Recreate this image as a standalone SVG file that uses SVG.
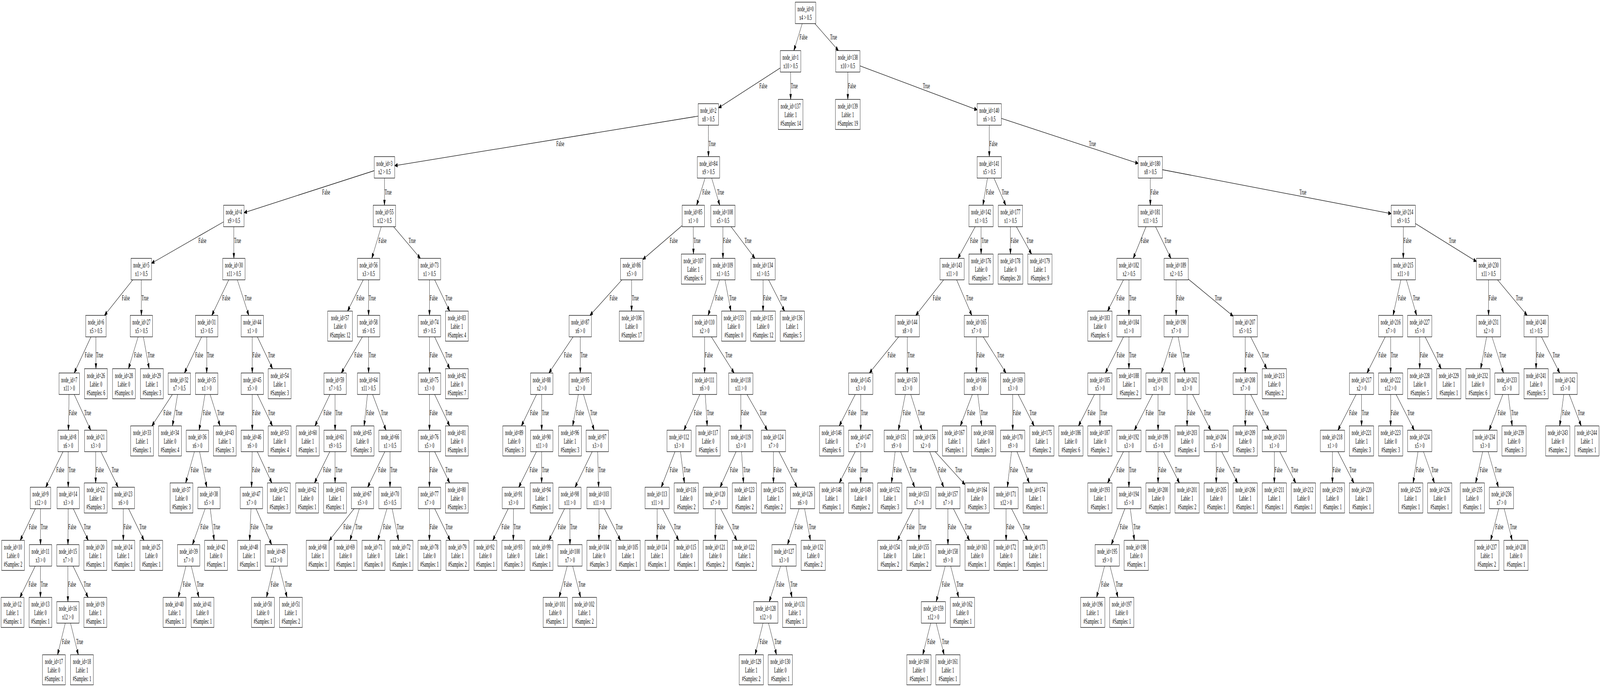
<svg xmlns="http://www.w3.org/2000/svg" width="7777" height="1759" viewBox="0 0 7777 1759" preserveAspectRatio="none" style="width:100vw;height:100vh;display:block">
<style>
text{font-family:"Liberation Serif","Times New Roman",serif;font-size:18.3px;fill:#000}
.node text{text-anchor:middle}
.node rect{fill:#fff;stroke:#000;stroke-width:1.3}
#edges path{fill:none;stroke:#000;stroke-width:1.3;marker-end:url(#ah)}
</style>
<defs>
<marker id="ah" markerUnits="userSpaceOnUse" viewBox="-14 -5 15 10" refX="0" refY="0" markerWidth="15" markerHeight="10" orient="auto" overflow="visible"><path d="M-13.1,-4.6L0,0L-13.1,4.6Z" fill="#000" stroke="#000" stroke-width="1.3"/></marker>
</defs>
<rect width="7777" height="1759" fill="#fff"/>
<g id="edges">
<path d="M3899.2,60.5L3858.8,129.5"/><text x="3886.2" y="101.4">False</text>
<path d="M3960.9,60.5L4075.3,129.5"/><text x="4034.6" y="101.4">True</text>
<path d="M3793,173.9L3492.8,276.1"/><text x="3691" y="226">False</text>
<path d="M3842.8,184.5L3843,254.5"/><text x="3844" y="226">True</text>
<path d="M4120.9,184.5L4120.9,254.5"/><text x="4122" y="226">False</text>
<path d="M4179.75,168.6L4749.75,281.4"/><text x="4485.8" y="226">True</text>
<path d="M3393.4,297.3L1918.4,424.2"/><text x="2704" y="373.6">False</text>
<path d="M3443.1,320.5L3443.6,401"/><text x="3444.4" y="373.6">True</text>
<path d="M4808.6,320.5L4808.6,401"/><text x="4809.6" y="373.6">False</text>
<path d="M4867.45,303.2L5532.45,418.3"/><text x="5292.9" y="373.6">True</text>
<path d="M1819,437L1186.4,544.55"/><text x="1566" y="497.6">False</text>
<path d="M1868.7,456L1868.7,525.5"/><text x="1869.7" y="497.6">True</text>
<path d="M3427.3,456L3386.1,525.5"/><text x="3413.7" y="497.6">False</text>
<path d="M3459.15,456L3498.45,525.5"/><text x="3485.4" y="497.6">True</text>
<path d="M4799.8,456L4777.6,525.5"/><text x="4792.9" y="497.6">False</text>
<path d="M4831.3,456L4888.7,525.5"/><text x="4869.1" y="497.6">True</text>
<path d="M5591.3,456L5591.3,525.5"/><text x="5592.3" y="497.6">False</text>
<path d="M5650.15,434.5L6762.05,547"/><text x="6316" y="497.6">True</text>
<path d="M1087,568L736.6,674"/><text x="964.5" y="622.4">False</text>
<path d="M1136.7,580.5L1136.7,661.5"/><text x="1137.7" y="622.4">True</text>
<path d="M1853.1,580.5L1807.2,661.5"/><text x="1840" y="622.4">False</text>
<path d="M1913,580.5L2043.3,661.5"/><text x="1986.2" y="622.4">True</text>
<path d="M3315.55,577.6L3124.25,664.4"/><text x="3255.3" y="622.4">False</text>
<path d="M3369.8,580.5L3370.6,650.5"/><text x="3371" y="622.4">True</text>
<path d="M3514,580.5L3514,661.5"/><text x="3515" y="622.4">False</text>
<path d="M3553.4,580.5L3669.5,661.5"/><text x="3618.7" y="622.4">True</text>
<path d="M4740.2,580.5L4656.1,661.5"/><text x="4715.4" y="622.4">False</text>
<path d="M4768.8,580.5L4768.8,650.5"/><text x="4769.8" y="622.4">True</text>
<path d="M4911.4,580.5L4911.4,650.5"/><text x="4912.4" y="622.4">False</text>
<path d="M4940.3,580.5L5014,650.5"/><text x="4988.6" y="622.4">True</text>
<path d="M5570.3,580.5L5508.3,661.5"/><text x="5545" y="622.4">False</text>
<path d="M5616.7,580.5L5691.5,661.5"/><text x="5659.1" y="622.4">True</text>
<path d="M6820.9,580.5L6820.9,661.5"/><text x="6821.9" y="622.4">False</text>
<path d="M6879.75,572.3L7176.55,669.7"/><text x="7042.5" y="622.4">True</text>
<path d="M645.35,716.5L507.85,807.5"/><text x="592.2" y="769.3">False</text>
<path d="M686.9,716.5L687.3,807.5"/><text x="688" y="769.3">True</text>
<path d="M1111.9,716.5L1029.6,807.5"/><text x="1080.5" y="769.3">False</text>
<path d="M1153.6,716.5L1209.3,807.5"/><text x="1188.8" y="769.3">True</text>
<path d="M1765.5,716.5L1689.4,796.5"/><text x="1732.5" y="769.3">False</text>
<path d="M1791.6,716.5L1791.6,807.5"/><text x="1792.6" y="769.3">True</text>
<path d="M2087.6,716.5L2087.6,807.5"/><text x="2088.6" y="769.3">False</text>
<path d="M2112.7,716.5L2185.6,796.5"/><text x="2164.5" y="769.3">True</text>
<path d="M3023,716.5L2867.5,807.5"/><text x="2962.8" y="769.3">False</text>
<path d="M3070,716.5L3070,796.5"/><text x="3071" y="769.3">True</text>
<path d="M3497.2,716.5L3441.7,807.5"/><text x="3476.3" y="769.3">False</text>
<path d="M3523.85,716.5L3552.5,796.5"/><text x="3544.8" y="769.3">True</text>
<path d="M3708.9,716.5L3708.9,796.5"/><text x="3709.9" y="769.3">False</text>
<path d="M3735.7,716.5L3813.5,796.5"/><text x="3791" y="769.3">True</text>
<path d="M4586.6,716.5L4451.2,807.5"/><text x="4534.3" y="769.3">False</text>
<path d="M4649.8,716.5L4723.7,807.5"/><text x="4696.1" y="769.3">True</text>
<path d="M5460.7,716.5L5383.5,796.5"/><text x="5427.1" y="769.3">False</text>
<path d="M5487.3,716.5L5487.3,807.5"/><text x="5488.3" y="769.3">True</text>
<path d="M5716.9,716.5L5716.9,807.5"/><text x="5717.9" y="769.3">False</text>
<path d="M5775.75,714.6L5993.85,809.4"/><text x="5905" y="769.3">True</text>
<path d="M6809.3,716.5L6771,807.5"/><text x="6795.2" y="769.3">False</text>
<path d="M6835.9,716.5L6885.7,807.5"/><text x="6867.4" y="769.3">True</text>
<path d="M7235.4,716.5L7235.4,807.5"/><text x="7236.4" y="769.3">False</text>
<path d="M7278.9,716.5L7422.8,807.5"/><text x="7368.1" y="769.3">True</text>
<path d="M442.1,862.5L360.8,955"/><text x="411.8" y="915.2">False</text>
<path d="M466.3,862.5L466.3,944"/><text x="467.3" y="915.2">True</text>
<path d="M671.45,862.5L624.5,944"/><text x="651.8" y="915.2">False</text>
<path d="M696.8,862.5L725,944"/><text x="717.1" y="915.2">True</text>
<path d="M980,862.5L896.5,955"/><text x="948.7" y="915.2">False</text>
<path d="M1004.8,862.5L1004.8,955"/><text x="1005.8" y="915.2">True</text>
<path d="M1226.2,862.5L1226.2,955"/><text x="1227.2" y="915.2">False</text>
<path d="M1251,862.5L1324.6,944"/><text x="1302.3" y="915.2">True</text>
<path d="M1761.2,862.5L1659.1,955"/><text x="1722.8" y="915.2">False</text>
<path d="M1791.6,862.5L1791.6,955"/><text x="1792.6" y="915.2">True</text>
<path d="M2087.6,862.5L2087.6,955"/><text x="2088.6" y="915.2">False</text>
<path d="M2112.4,862.5L2186,944"/><text x="2163.7" y="915.2">True</text>
<path d="M2785.5,862.5L2668,955"/><text x="2741.2" y="915.2">False</text>
<path d="M2820.5,862.5L2820.5,955"/><text x="2821.5" y="915.2">True</text>
<path d="M3424.9,862.5L3424.9,955"/><text x="3425.9" y="915.2">False</text>
<path d="M3457.75,862.5L3568.25,955"/><text x="3525.3" y="915.2">True</text>
<path d="M4368,862.5L4225.8,955"/><text x="4314.1" y="915.2">False</text>
<path d="M4410.3,862.5L4410.3,955"/><text x="4411.3" y="915.2">True</text>
<path d="M4746,862.5L4746,955"/><text x="4747" y="915.2">False</text>
<path d="M4778.9,862.5L4889.7,955"/><text x="4846.6" y="915.2">True</text>
<path d="M5461,862.5L5372.6,955"/><text x="5427.9" y="915.2">False</text>
<path d="M5487.3,862.5L5487.3,944"/><text x="5488.3" y="915.2">True</text>
<path d="M5700.5,862.5L5645.4,955"/><text x="5680.3" y="915.2">False</text>
<path d="M5726.8,862.5L5760.1,955"/><text x="5747.8" y="915.2">True</text>
<path d="M6052.7,862.5L6052.7,955"/><text x="6053.7" y="915.2">False</text>
<path d="M6079,862.5L6157.1,944"/><text x="6133.4" y="915.2">True</text>
<path d="M6733.1,862.5L6644.4,955"/><text x="6699.8" y="915.2">False</text>
<path d="M6759.4,862.5L6759.4,955"/><text x="6760.4" y="915.2">True</text>
<path d="M6900.7,862.5L6900.7,944"/><text x="6901.7" y="915.2">False</text>
<path d="M6927,862.5L7005.1,944"/><text x="6981.4" y="915.2">True</text>
<path d="M7225.8,862.5L7197.2,944"/><text x="7214.3" y="915.2">False</text>
<path d="M7252,862.5L7308,955"/><text x="7286.7" y="915.2">True</text>
<path d="M7466.3,862.5L7466.3,944"/><text x="7467.3" y="915.2">False</text>
<path d="M7492.6,862.5L7581.3,955"/><text x="7547" y="915.2">True</text>
<path d="M335.7,1010L332.5,1101.5"/><text x="335.5" y="1062.6">False</text>
<path d="M360.7,1010L441,1101.5"/><text x="409" y="1062.6">True</text>
<path d="M837.7,1010L738.2,1090.5"/><text x="794.7" y="1062.6">False</text>
<path d="M863.2,1010L838.2,1090.5"/><text x="852.5" y="1062.6">True</text>
<path d="M996.3,1010L968.1,1101.5"/><text x="986.3" y="1062.6">False</text>
<path d="M1021.3,1010L1069.6,1090.5"/><text x="1055.7" y="1062.6">True</text>
<path d="M1226.2,1010L1226.2,1101.5"/><text x="1227.2" y="1062.6">False</text>
<path d="M1251.2,1010L1324.3,1090.5"/><text x="1302.7" y="1062.6">True</text>
<path d="M1603.8,1010L1530.9,1090.5"/><text x="1572.6" y="1062.6">False</text>
<path d="M1628.7,1010L1628.7,1101.5"/><text x="1629.7" y="1062.6">True</text>
<path d="M1786.1,1010L1769.9,1090.5"/><text x="1779.9" y="1062.6">False</text>
<path d="M1811.1,1010L1876.2,1101.5"/><text x="1851.7" y="1062.6">True</text>
<path d="M2087.6,1010L2087.6,1101.5"/><text x="2088.6" y="1062.6">False</text>
<path d="M2112.6,1010L2185.7,1090.5"/><text x="2164.1" y="1062.6">True</text>
<path d="M2607.9,1010L2534.4,1090.5"/><text x="2576.3" y="1062.6">False</text>
<path d="M2633,1010L2633,1101.5"/><text x="2634" y="1062.6">True</text>
<path d="M2811.1,1010L2783.6,1090.5"/><text x="2799.9" y="1062.6">False</text>
<path d="M2836.1,1010L2887.8,1101.5"/><text x="2868.5" y="1062.6">True</text>
<path d="M3401.6,1010L3324.3,1101.5"/><text x="3372.5" y="1062.6">False</text>
<path d="M3428.1,1010L3437.4,1090.5"/><text x="3435.5" y="1062.6">True</text>
<path d="M3601.1,1010L3601.1,1101.5"/><text x="3602.1" y="1062.6">False</text>
<path d="M3630.8,1010L3729.7,1101.5"/><text x="3691.9" y="1062.6">True</text>
<path d="M4157,1010L4079.3,1090.5"/><text x="4123.6" y="1062.6">False</text>
<path d="M4183.5,1010L4183.5,1101.5"/><text x="4184.5" y="1062.6">True</text>
<path d="M4400.3,1010L4366.8,1101.5"/><text x="4388.2" y="1062.6">False</text>
<path d="M4426.8,1010L4481.7,1101.5"/><text x="4461.2" y="1062.6">True</text>
<path d="M4726.1,1010L4667.8,1090.5"/><text x="4701.3" y="1062.6">False</text>
<path d="M4752.55,1010L4771.7,1090.5"/><text x="4766.8" y="1062.6">True</text>
<path d="M4922.6,1010L4922.6,1101.5"/><text x="4923.6" y="1062.6">False</text>
<path d="M4949.1,1010L5026.8,1090.5"/><text x="5003.8" y="1062.6">True</text>
<path d="M5319.8,1010L5242.1,1090.5"/><text x="5286.4" y="1062.6">False</text>
<path d="M5346.3,1010L5346.3,1090.5"/><text x="5347.3" y="1062.6">True</text>
<path d="M5602.4,1010L5513.9,1101.5"/><text x="5568.9" y="1062.6">False</text>
<path d="M5629,1010L5629,1101.5"/><text x="5630" y="1062.6">True</text>
<path d="M5770,1010L5770,1090.5"/><text x="5771" y="1062.6">False</text>
<path d="M5796.6,1010L5885.1,1101.5"/><text x="5851.4" y="1062.6">True</text>
<path d="M6052.7,1010L6052.7,1090.5"/><text x="6053.7" y="1062.6">False</text>
<path d="M6079.2,1010L6167.5,1101.5"/><text x="6133.9" y="1062.6">True</text>
<path d="M6591.5,1010L6503.1,1101.5"/><text x="6558" y="1062.6">False</text>
<path d="M6618.1,1010L6618.1,1090.5"/><text x="6619.1" y="1062.6">True</text>
<path d="M6759.4,1010L6759.4,1090.5"/><text x="6760.4" y="1062.6">False</text>
<path d="M6785.9,1010L6874.2,1101.5"/><text x="6840.6" y="1062.6">True</text>
<path d="M7304.65,1010L7238.25,1101.5"/><text x="7279.8" y="1062.6">False</text>
<path d="M7331.1,1010L7350.1,1090.5"/><text x="7345.2" y="1062.6">True</text>
<path d="M7600.9,1010L7581.1,1090.5"/><text x="7593.1" y="1062.6">False</text>
<path d="M7627.5,1010L7685.7,1090.5"/><text x="7668.7" y="1062.6">True</text>
<path d="M306.2,1156.5L222.3,1247.5"/><text x="274" y="1209.5">False</text>
<path d="M331.6,1156.5L331.6,1247.5"/><text x="332.6" y="1209.5">True</text>
<path d="M465.1,1156.5L465.1,1236.5"/><text x="466.1" y="1209.5">False</text>
<path d="M490.4,1156.5L574.1,1247.5"/><text x="542.9" y="1209.5">True</text>
<path d="M945,1156.5L902.5,1236.5"/><text x="926.9" y="1209.5">False</text>
<path d="M970.1,1156.5L1005.1,1247.5"/><text x="992.7" y="1209.5">True</text>
<path d="M1225.4,1156.5L1222.8,1247.5"/><text x="1225.4" y="1209.5">False</text>
<path d="M1250.6,1156.5L1321.4,1236.5"/><text x="1301.1" y="1209.5">True</text>
<path d="M1603.1,1156.5L1528.6,1236.5"/><text x="1570.6" y="1209.5">False</text>
<path d="M1628.7,1156.5L1628.7,1236.5"/><text x="1629.7" y="1209.5">True</text>
<path d="M1870.5,1156.5L1787,1247.5"/><text x="1838.5" y="1209.5">False</text>
<path d="M1895.7,1156.5L1895.7,1247.5"/><text x="1896.7" y="1209.5">True</text>
<path d="M2087.6,1156.5L2087.6,1247.5"/><text x="2088.6" y="1209.5">False</text>
<path d="M2112.7,1156.5L2185.6,1236.5"/><text x="2164.7" y="1209.5">True</text>
<path d="M2607.1,1156.5L2521.4,1247.5"/><text x="2574.3" y="1209.5">False</text>
<path d="M2633,1156.5L2632.6,1236.5"/><text x="2634" y="1209.5">True</text>
<path d="M2878.3,1156.5L2795.1,1247.5"/><text x="2846.5" y="1209.5">False</text>
<path d="M2904.9,1156.5L2909.8,1247.5"/><text x="2908.9" y="1209.5">True</text>
<path d="M3280.8,1156.5L3214.2,1247.5"/><text x="3255.5" y="1209.5">False</text>
<path d="M3307.6,1156.5L3326.6,1236.5"/><text x="3321.8" y="1209.5">True</text>
<path d="M3577.7,1156.5L3500.1,1247.5"/><text x="3548.1" y="1209.5">False</text>
<path d="M3604.4,1156.5L3613.9,1236.5"/><text x="3612.1" y="1209.5">True</text>
<path d="M3759.4,1156.5L3759.4,1236.5"/><text x="3760.4" y="1209.5">False</text>
<path d="M3786.1,1156.5L3874.3,1247.5"/><text x="3841.3" y="1209.5">True</text>
<path d="M4156.9,1156.5L4079.5,1236.5"/><text x="4123" y="1209.5">False</text>
<path d="M4183.5,1156.5L4183.5,1236.5"/><text x="4184.5" y="1209.5">True</text>
<path d="M4350.8,1156.5L4333.3,1236.5"/><text x="4343.9" y="1209.5">False</text>
<path d="M4377.5,1156.5L4446,1247.5"/><text x="4420.6" y="1209.5">True</text>
<path d="M4518.8,1156.5L4587,1247.5"/><text x="4560" y="1209.5">False</text>
<path d="M4545.5,1156.5L4690.55,1240.8"/><text x="4642.8" y="1209.5">True</text>
<path d="M4916.5,1156.5L4896.4,1247.5"/><text x="4909.5" y="1209.5">False</text>
<path d="M4943.2,1156.5L5002.9,1236.5"/><text x="4985.9" y="1209.5">True</text>
<path d="M5460.7,1156.5L5383.5,1236.5"/><text x="5427" y="1209.5">False</text>
<path d="M5487.3,1156.5L5487.3,1247.5"/><text x="5488.3" y="1209.5">True</text>
<path d="M5629,1156.5L5629,1236.5"/><text x="5630" y="1209.5">False</text>
<path d="M5655.6,1156.5L5732.8,1236.5"/><text x="5710.6" y="1209.5">True</text>
<path d="M5911.7,1156.5L5911.7,1236.5"/><text x="5912.7" y="1209.5">False</text>
<path d="M5938.3,1156.5L6015.5,1236.5"/><text x="5993.3" y="1209.5">True</text>
<path d="M6194,1156.5L6194,1236.5"/><text x="6195" y="1209.5">False</text>
<path d="M6220.6,1156.5L6298.1,1236.5"/><text x="6275.8" y="1209.5">True</text>
<path d="M6476.5,1156.5L6476.5,1236.5"/><text x="6477.5" y="1209.5">False</text>
<path d="M6503.2,1156.5L6580.8,1236.5"/><text x="6558.4" y="1209.5">True</text>
<path d="M6892.5,1156.5L6868.6,1236.5"/><text x="6882.8" y="1209.5">False</text>
<path d="M6919,1156.5L6972.3,1236.5"/><text x="6957.3" y="1209.5">True</text>
<path d="M7206.6,1156.5L7172.7,1236.5"/><text x="7192.4" y="1209.5">False</text>
<path d="M7233.3,1156.5L7283.1,1247.5"/><text x="7264.9" y="1209.5">True</text>
<path d="M171.9,1302.5L98.4,1383.5"/><text x="140.5" y="1355.2">False</text>
<path d="M196.9,1302.5L196.9,1394.5"/><text x="197.9" y="1355.2">True</text>
<path d="M331.3,1302.5L330.3,1394.5"/><text x="332" y="1355.2">False</text>
<path d="M356.3,1302.5L428.9,1383.5"/><text x="407.3" y="1355.2">True</text>
<path d="M599.4,1302.5L599.4,1383.5"/><text x="600.4" y="1355.2">False</text>
<path d="M624.8,1302.5L699.8,1383.5"/><text x="677.4" y="1355.2">True</text>
<path d="M997.1,1302.5L935.4,1394.5"/><text x="974.2" y="1355.2">False</text>
<path d="M1022,1302.5L1041,1383.5"/><text x="1036.1" y="1355.2">True</text>
<path d="M1219.8,1302.5L1213.4,1383.5"/><text x="1218" y="1355.2">False</text>
<path d="M1244.6,1302.5L1320.4,1394.5"/><text x="1291.5" y="1355.2">True</text>
<path d="M1721.1,1302.5L1599.65,1384.5"/><text x="1669.2" y="1355.2">False</text>
<path d="M1746.4,1302.5L1701.2,1383.5"/><text x="1726.3" y="1355.2">True</text>
<path d="M1880.7,1302.5L1836.4,1383.5"/><text x="1862.1" y="1355.2">False</text>
<path d="M1906.2,1302.5L1937,1383.5"/><text x="1928.3" y="1355.2">True</text>
<path d="M2087.6,1302.5L2087.2,1383.5"/><text x="2088.6" y="1355.2">False</text>
<path d="M2113,1302.5L2188,1383.5"/><text x="2165.6" y="1355.2">True</text>
<path d="M2470.1,1302.5L2395.1,1383.5"/><text x="2438" y="1355.2">False</text>
<path d="M2495.5,1302.5L2495.1,1383.5"/><text x="2496.5" y="1355.2">True</text>
<path d="M2744.2,1302.5L2668.1,1383.5"/><text x="2711.6" y="1355.2">False</text>
<path d="M2770,1302.5L2770.4,1394.5"/><text x="2771" y="1355.2">True</text>
<path d="M2911.3,1302.5L2911.3,1383.5"/><text x="2912.3" y="1355.2">False</text>
<path d="M2937.8,1302.5L3015.9,1383.5"/><text x="2992.6" y="1355.2">True</text>
<path d="M3194,1302.5L3194,1383.5"/><text x="3195" y="1355.2">False</text>
<path d="M3220.5,1302.5L3298.7,1383.5"/><text x="3275.3" y="1355.2">True</text>
<path d="M3476.7,1302.5L3476.7,1383.5"/><text x="3477.7" y="1355.2">False</text>
<path d="M3503.2,1302.5L3581.4,1383.5"/><text x="3558" y="1355.2">True</text>
<path d="M3884.1,1302.5L3827.7,1394.5"/><text x="3863.1" y="1355.2">False</text>
<path d="M3910.7,1302.5L3939.4,1383.5"/><text x="3931.5" y="1355.2">True</text>
<path d="M4440.2,1302.5L4362,1383.5"/><text x="4406.7" y="1355.2">False</text>
<path d="M4466.7,1302.5L4466.7,1383.5"/><text x="4467.7" y="1355.2">True</text>
<path d="M4607.6,1302.5L4607.6,1394.5"/><text x="4608.6" y="1355.2">False</text>
<path d="M4634.1,1302.5L4712.3,1383.5"/><text x="4688.9" y="1355.2">True</text>
<path d="M4890.3,1302.5L4890.3,1383.5"/><text x="4891.3" y="1355.2">False</text>
<path d="M4916.8,1302.5L4994.7,1383.5"/><text x="4971.4" y="1355.2">True</text>
<path d="M5467.6,1302.5L5401.7,1394.5"/><text x="5443" y="1355.2">False</text>
<path d="M5494,1302.5L5513.6,1383.5"/><text x="5508.5" y="1355.2">True</text>
<path d="M7284.8,1302.5L7245.5,1383.5"/><text x="7268.4" y="1355.2">False</text>
<path d="M7311.3,1302.5L7350.1,1383.5"/><text x="7339" y="1355.2">True</text>
<path d="M171.3,1449.5L96.8,1529.5"/><text x="139" y="1502.1">False</text>
<path d="M196.9,1449.5L196.5,1529.5"/><text x="197.9" y="1502.1">True</text>
<path d="M330,1449.5L330,1540.5"/><text x="331" y="1502.1">False</text>
<path d="M355.1,1449.5L428.2,1529.5"/><text x="407" y="1502.1">True</text>
<path d="M904,1449.5L866.5,1529.5"/><text x="888.4" y="1502.1">False</text>
<path d="M929.6,1449.5L966.7,1529.5"/><text x="956.4" y="1502.1">True</text>
<path d="M1330.8,1449.5L1295.1,1529.5"/><text x="1315.9" y="1502.1">False</text>
<path d="M1356.4,1449.5L1395.3,1529.5"/><text x="1384.5" y="1502.1">True</text>
<path d="M2757,1449.5L2717.8,1529.5"/><text x="2740.5" y="1502.1">False</text>
<path d="M2783.7,1449.5L2822.2,1529.5"/><text x="2811.5" y="1502.1">True</text>
<path d="M3794.1,1449.5L3738.8,1540.5"/><text x="3773.4" y="1502.1">False</text>
<path d="M3820.6,1449.5L3849.2,1529.5"/><text x="3841.5" y="1502.1">True</text>
<path d="M4594.3,1449.5L4550.5,1540.5"/><text x="4578.1" y="1502.1">False</text>
<path d="M4620.9,1449.5L4659.6,1529.5"/><text x="4648.9" y="1502.1">True</text>
<path d="M5368.7,1449.5L5330.1,1529.5"/><text x="5352.5" y="1502.1">False</text>
<path d="M5395.3,1449.5L5433.9,1529.5"/><text x="5423.1" y="1502.1">True</text>
<path d="M317.3,1595.5L279.8,1676.5"/><text x="301.4" y="1649">False</text>
<path d="M342.8,1595.5L380.5,1676.5"/><text x="370.1" y="1649">True</text>
<path d="M3708.9,1595.5L3670.1,1676.5"/><text x="3692.4" y="1649">False</text>
<path d="M3735.4,1595.5L3774.4,1676.5"/><text x="3763.6" y="1649">True</text>
<path d="M4524,1595.5L4485.2,1676.5"/><text x="4507.5" y="1649">False</text>
<path d="M4550.4,1595.5L4589.2,1676.5"/><text x="4578.4" y="1649">True</text>
</g>
<g id="nodes">
<g id="node0" class="node" transform="translate(3915.3,33)"><rect x="-49.7" y="-27.5" width="99.4" height="55"/><text y="-4">node_id=0</text><text y="18">x4 &gt; 0.5</text></g>
<g id="node1" class="node" transform="translate(3842.7,157)"><rect x="-49.7" y="-27.5" width="99.4" height="55"/><text y="-4">node_id=1</text><text y="18">x10 &gt; 0.5</text></g>
<g id="node138" class="node" transform="translate(4120.9,157)"><rect x="-58.85" y="-27.5" width="117.7" height="55"/><text y="-4">node_id=138</text><text y="18">x10 &gt; 0.5</text></g>
<g id="node2" class="node" transform="translate(3443.1,293)"><rect x="-49.7" y="-27.5" width="99.4" height="55"/><text y="-4">node_id=2</text><text y="18">x8 &gt; 0.5</text></g>
<g id="node137" class="node" transform="translate(3843,293)"><rect x="-60.05" y="-38.5" width="120.1" height="77"/><text y="-14.8">node_id=137</text><text y="7.2">Lable: 1</text><text y="29.2">#Samples: 14</text></g>
<g id="node139" class="node" transform="translate(4120.9,293)"><rect x="-60.05" y="-38.5" width="120.1" height="77"/><text y="-14.8">node_id=139</text><text y="7.2">Lable: 1</text><text y="29.2">#Samples: 19</text></g>
<g id="node140" class="node" transform="translate(4808.6,293)"><rect x="-58.85" y="-27.5" width="117.7" height="55"/><text y="-4">node_id=140</text><text y="18">x6 &gt; 0.5</text></g>
<g id="node3" class="node" transform="translate(1868.7,428.5)"><rect x="-49.7" y="-27.5" width="99.4" height="55"/><text y="-4">node_id=3</text><text y="18">x2 &gt; 0.5</text></g>
<g id="node84" class="node" transform="translate(3443.6,428.5)"><rect x="-54.25" y="-27.5" width="108.5" height="55"/><text y="-4">node_id=84</text><text y="18">x9 &gt; 0.5</text></g>
<g id="node141" class="node" transform="translate(4808.6,428.5)"><rect x="-58.85" y="-27.5" width="117.7" height="55"/><text y="-4">node_id=141</text><text y="18">x5 &gt; 0.5</text></g>
<g id="node180" class="node" transform="translate(5591.3,428.5)"><rect x="-58.85" y="-27.5" width="117.7" height="55"/><text y="-4">node_id=180</text><text y="18">x8 &gt; 0.5</text></g>
<g id="node4" class="node" transform="translate(1136.7,553)"><rect x="-49.7" y="-27.5" width="99.4" height="55"/><text y="-4">node_id=4</text><text y="18">x9 &gt; 0.5</text></g>
<g id="node55" class="node" transform="translate(1868.7,553)"><rect x="-54.25" y="-27.5" width="108.5" height="55"/><text y="-4">node_id=55</text><text y="18">x12 &gt; 0.5</text></g>
<g id="node85" class="node" transform="translate(3369.8,553)"><rect x="-54.25" y="-27.5" width="108.5" height="55"/><text y="-4">node_id=85</text><text y="18">x1 &gt; 0</text></g>
<g id="node108" class="node" transform="translate(3514,553)"><rect x="-58.85" y="-27.5" width="117.7" height="55"/><text y="-4">node_id=108</text><text y="18">x5 &gt; 0.5</text></g>
<g id="node142" class="node" transform="translate(4768.8,553)"><rect x="-58.85" y="-27.5" width="117.7" height="55"/><text y="-4">node_id=142</text><text y="18">x1 &gt; 0.5</text></g>
<g id="node177" class="node" transform="translate(4911.4,553)"><rect x="-58.85" y="-27.5" width="117.7" height="55"/><text y="-4">node_id=177</text><text y="18">x1 &gt; 0.5</text></g>
<g id="node181" class="node" transform="translate(5591.3,553)"><rect x="-58.85" y="-27.5" width="117.7" height="55"/><text y="-4">node_id=181</text><text y="18">x11 &gt; 0.5</text></g>
<g id="node214" class="node" transform="translate(6820.9,553)"><rect x="-58.85" y="-27.5" width="117.7" height="55"/><text y="-4">node_id=214</text><text y="18">x9 &gt; 0.5</text></g>
<g id="node5" class="node" transform="translate(686.9,689)"><rect x="-49.7" y="-27.5" width="99.4" height="55"/><text y="-4">node_id=5</text><text y="18">x1 &gt; 0.5</text></g>
<g id="node30" class="node" transform="translate(1136.7,689)"><rect x="-54.25" y="-27.5" width="108.5" height="55"/><text y="-4">node_id=30</text><text y="18">x11 &gt; 0.5</text></g>
<g id="node56" class="node" transform="translate(1791.6,689)"><rect x="-54.25" y="-27.5" width="108.5" height="55"/><text y="-4">node_id=56</text><text y="18">x3 &gt; 0.5</text></g>
<g id="node73" class="node" transform="translate(2087.6,689)"><rect x="-54.25" y="-27.5" width="108.5" height="55"/><text y="-4">node_id=73</text><text y="18">x1 &gt; 0.5</text></g>
<g id="node86" class="node" transform="translate(3070,689)"><rect x="-54.25" y="-27.5" width="108.5" height="55"/><text y="-4">node_id=86</text><text y="18">x5 &gt; 0</text></g>
<g id="node107" class="node" transform="translate(3370.6,689)"><rect x="-58.85" y="-38.5" width="117.7" height="77"/><text y="-14.8">node_id=107</text><text y="7.2">Lable: 1</text><text y="29.2">#Samples: 6</text></g>
<g id="node109" class="node" transform="translate(3514,689)"><rect x="-58.85" y="-27.5" width="117.7" height="55"/><text y="-4">node_id=109</text><text y="18">x1 &gt; 0.5</text></g>
<g id="node134" class="node" transform="translate(3708.9,689)"><rect x="-58.85" y="-27.5" width="117.7" height="55"/><text y="-4">node_id=134</text><text y="18">x1 &gt; 0.5</text></g>
<g id="node143" class="node" transform="translate(4627.5,689)"><rect x="-58.85" y="-27.5" width="117.7" height="55"/><text y="-4">node_id=143</text><text y="18">x11 &gt; 0</text></g>
<g id="node176" class="node" transform="translate(4768.8,689)"><rect x="-58.85" y="-38.5" width="117.7" height="77"/><text y="-14.8">node_id=176</text><text y="7.2">Lable: 0</text><text y="29.2">#Samples: 7</text></g>
<g id="node178" class="node" transform="translate(4911.4,689)"><rect x="-60.05" y="-38.5" width="120.1" height="77"/><text y="-14.8">node_id=178</text><text y="7.2">Lable: 0</text><text y="29.2">#Samples: 20</text></g>
<g id="node179" class="node" transform="translate(5054.5,689)"><rect x="-58.85" y="-38.5" width="117.7" height="77"/><text y="-14.8">node_id=179</text><text y="7.2">Lable: 1</text><text y="29.2">#Samples: 9</text></g>
<g id="node182" class="node" transform="translate(5487.3,689)"><rect x="-58.85" y="-27.5" width="117.7" height="55"/><text y="-4">node_id=182</text><text y="18">x2 &gt; 0.5</text></g>
<g id="node189" class="node" transform="translate(5716.9,689)"><rect x="-58.85" y="-27.5" width="117.7" height="55"/><text y="-4">node_id=189</text><text y="18">x2 &gt; 0.5</text></g>
<g id="node215" class="node" transform="translate(6820.9,689)"><rect x="-58.85" y="-27.5" width="117.7" height="55"/><text y="-4">node_id=215</text><text y="18">x11 &gt; 0</text></g>
<g id="node230" class="node" transform="translate(7235.4,689)"><rect x="-58.85" y="-27.5" width="117.7" height="55"/><text y="-4">node_id=230</text><text y="18">x11 &gt; 0.5</text></g>
<g id="node6" class="node" transform="translate(466.3,835)"><rect x="-49.7" y="-27.5" width="99.4" height="55"/><text y="-4">node_id=6</text><text y="18">x5 &gt; 0.5</text></g>
<g id="node27" class="node" transform="translate(687.3,835)"><rect x="-54.25" y="-27.5" width="108.5" height="55"/><text y="-4">node_id=27</text><text y="18">x5 &gt; 0.5</text></g>
<g id="node31" class="node" transform="translate(1004.8,835)"><rect x="-54.25" y="-27.5" width="108.5" height="55"/><text y="-4">node_id=31</text><text y="18">x3 &gt; 0.5</text></g>
<g id="node44" class="node" transform="translate(1226.2,835)"><rect x="-54.25" y="-27.5" width="108.5" height="55"/><text y="-4">node_id=44</text><text y="18">x1 &gt; 0</text></g>
<g id="node57" class="node" transform="translate(1652.8,835)"><rect x="-60.05" y="-38.5" width="120.1" height="77"/><text y="-14.8">node_id=57</text><text y="7.2">Lable: 0</text><text y="29.2">#Samples: 12</text></g>
<g id="node58" class="node" transform="translate(1791.6,835)"><rect x="-54.25" y="-27.5" width="108.5" height="55"/><text y="-4">node_id=58</text><text y="18">x6 &gt; 0.5</text></g>
<g id="node74" class="node" transform="translate(2087.6,835)"><rect x="-54.25" y="-27.5" width="108.5" height="55"/><text y="-4">node_id=74</text><text y="18">x9 &gt; 0.5</text></g>
<g id="node83" class="node" transform="translate(2220.7,835)"><rect x="-55.45" y="-38.5" width="110.9" height="77"/><text y="-14.8">node_id=83</text><text y="7.2">Lable: 1</text><text y="29.2">#Samples: 4</text></g>
<g id="node87" class="node" transform="translate(2820.5,835)"><rect x="-54.25" y="-27.5" width="108.5" height="55"/><text y="-4">node_id=87</text><text y="18">x6 &gt; 0</text></g>
<g id="node106" class="node" transform="translate(3070,835)"><rect x="-60.05" y="-38.5" width="120.1" height="77"/><text y="-14.8">node_id=106</text><text y="7.2">Lable: 0</text><text y="29.2">#Samples: 17</text></g>
<g id="node110" class="node" transform="translate(3424.9,835)"><rect x="-58.85" y="-27.5" width="117.7" height="55"/><text y="-4">node_id=110</text><text y="18">x2 &gt; 0</text></g>
<g id="node133" class="node" transform="translate(3566.3,835)"><rect x="-58.85" y="-38.5" width="117.7" height="77"/><text y="-14.8">node_id=133</text><text y="7.2">Lable: 0</text><text y="29.2">#Samples: 0</text></g>
<g id="node135" class="node" transform="translate(3708.9,835)"><rect x="-60.05" y="-38.5" width="120.1" height="77"/><text y="-14.8">node_id=135</text><text y="7.2">Lable: 0</text><text y="29.2">#Samples: 12</text></g>
<g id="node136" class="node" transform="translate(3851,835)"><rect x="-58.85" y="-38.5" width="117.7" height="77"/><text y="-14.8">node_id=136</text><text y="7.2">Lable: 1</text><text y="29.2">#Samples: 5</text></g>
<g id="node144" class="node" transform="translate(4410.3,835)"><rect x="-58.85" y="-27.5" width="117.7" height="55"/><text y="-4">node_id=144</text><text y="18">x8 &gt; 0</text></g>
<g id="node165" class="node" transform="translate(4746,835)"><rect x="-58.85" y="-27.5" width="117.7" height="55"/><text y="-4">node_id=165</text><text y="18">x7 &gt; 0</text></g>
<g id="node183" class="node" transform="translate(5346.3,835)"><rect x="-58.85" y="-38.5" width="117.7" height="77"/><text y="-14.8">node_id=183</text><text y="7.2">Lable: 0</text><text y="29.2">#Samples: 6</text></g>
<g id="node184" class="node" transform="translate(5487.3,835)"><rect x="-58.85" y="-27.5" width="117.7" height="55"/><text y="-4">node_id=184</text><text y="18">x1 &gt; 0</text></g>
<g id="node190" class="node" transform="translate(5716.9,835)"><rect x="-58.85" y="-27.5" width="117.7" height="55"/><text y="-4">node_id=190</text><text y="18">x7 &gt; 0</text></g>
<g id="node207" class="node" transform="translate(6052.7,835)"><rect x="-58.85" y="-27.5" width="117.7" height="55"/><text y="-4">node_id=207</text><text y="18">x5 &gt; 0.5</text></g>
<g id="node216" class="node" transform="translate(6759.4,835)"><rect x="-58.85" y="-27.5" width="117.7" height="55"/><text y="-4">node_id=216</text><text y="18">x7 &gt; 0</text></g>
<g id="node227" class="node" transform="translate(6900.7,835)"><rect x="-58.85" y="-27.5" width="117.7" height="55"/><text y="-4">node_id=227</text><text y="18">x5 &gt; 0</text></g>
<g id="node231" class="node" transform="translate(7235.4,835)"><rect x="-58.85" y="-27.5" width="117.7" height="55"/><text y="-4">node_id=231</text><text y="18">x2 &gt; 0</text></g>
<g id="node240" class="node" transform="translate(7466.3,835)"><rect x="-58.85" y="-27.5" width="117.7" height="55"/><text y="-4">node_id=240</text><text y="18">x1 &gt; 0.5</text></g>
<g id="node7" class="node" transform="translate(336.6,982.5)"><rect x="-49.7" y="-27.5" width="99.4" height="55"/><text y="-4">node_id=7</text><text y="18">x11 &gt; 0</text></g>
<g id="node26" class="node" transform="translate(466.3,982.5)"><rect x="-55.45" y="-38.5" width="110.9" height="77"/><text y="-14.8">node_id=26</text><text y="7.2">Lable: 0</text><text y="29.2">#Samples: 6</text></g>
<g id="node28" class="node" transform="translate(602.3,982.5)"><rect x="-55.45" y="-38.5" width="110.9" height="77"/><text y="-14.8">node_id=28</text><text y="7.2">Lable: 0</text><text y="29.2">#Samples: 0</text></g>
<g id="node29" class="node" transform="translate(738.3,982.5)"><rect x="-55.45" y="-38.5" width="110.9" height="77"/><text y="-14.8">node_id=29</text><text y="7.2">Lable: 1</text><text y="29.2">#Samples: 3</text></g>
<g id="node32" class="node" transform="translate(871.7,982.5)"><rect x="-54.25" y="-27.5" width="108.5" height="55"/><text y="-4">node_id=32</text><text y="18">x7 &gt; 0.5</text></g>
<g id="node35" class="node" transform="translate(1004.8,982.5)"><rect x="-54.25" y="-27.5" width="108.5" height="55"/><text y="-4">node_id=35</text><text y="18">x1 &gt; 0</text></g>
<g id="node45" class="node" transform="translate(1226.2,982.5)"><rect x="-54.25" y="-27.5" width="108.5" height="55"/><text y="-4">node_id=45</text><text y="18">x5 &gt; 0</text></g>
<g id="node54" class="node" transform="translate(1359.3,982.5)"><rect x="-55.45" y="-38.5" width="110.9" height="77"/><text y="-14.8">node_id=54</text><text y="7.2">Lable: 1</text><text y="29.2">#Samples: 3</text></g>
<g id="node59" class="node" transform="translate(1628.7,982.5)"><rect x="-54.25" y="-27.5" width="108.5" height="55"/><text y="-4">node_id=59</text><text y="18">x7 &gt; 0.5</text></g>
<g id="node64" class="node" transform="translate(1791.6,982.5)"><rect x="-54.25" y="-27.5" width="108.5" height="55"/><text y="-4">node_id=64</text><text y="18">x11 &gt; 0.5</text></g>
<g id="node75" class="node" transform="translate(2087.6,982.5)"><rect x="-54.25" y="-27.5" width="108.5" height="55"/><text y="-4">node_id=75</text><text y="18">x3 &gt; 0</text></g>
<g id="node82" class="node" transform="translate(2220.7,982.5)"><rect x="-55.45" y="-38.5" width="110.9" height="77"/><text y="-14.8">node_id=82</text><text y="7.2">Lable: 0</text><text y="29.2">#Samples: 7</text></g>
<g id="node88" class="node" transform="translate(2633,982.5)"><rect x="-54.25" y="-27.5" width="108.5" height="55"/><text y="-4">node_id=88</text><text y="18">x2 &gt; 0</text></g>
<g id="node95" class="node" transform="translate(2820.5,982.5)"><rect x="-54.25" y="-27.5" width="108.5" height="55"/><text y="-4">node_id=95</text><text y="18">x2 &gt; 0</text></g>
<g id="node111" class="node" transform="translate(3424.9,982.5)"><rect x="-58.85" y="-27.5" width="117.7" height="55"/><text y="-4">node_id=111</text><text y="18">x6 &gt; 0</text></g>
<g id="node118" class="node" transform="translate(3601.1,982.5)"><rect x="-58.85" y="-27.5" width="117.7" height="55"/><text y="-4">node_id=118</text><text y="18">x11 &gt; 0</text></g>
<g id="node145" class="node" transform="translate(4183.5,982.5)"><rect x="-58.85" y="-27.5" width="117.7" height="55"/><text y="-4">node_id=145</text><text y="18">x3 &gt; 0</text></g>
<g id="node150" class="node" transform="translate(4410.3,982.5)"><rect x="-58.85" y="-27.5" width="117.7" height="55"/><text y="-4">node_id=150</text><text y="18">x3 &gt; 0</text></g>
<g id="node166" class="node" transform="translate(4746,982.5)"><rect x="-58.85" y="-27.5" width="117.7" height="55"/><text y="-4">node_id=166</text><text y="18">x8 &gt; 0</text></g>
<g id="node169" class="node" transform="translate(4922.6,982.5)"><rect x="-58.85" y="-27.5" width="117.7" height="55"/><text y="-4">node_id=169</text><text y="18">x3 &gt; 0</text></g>
<g id="node185" class="node" transform="translate(5346.3,982.5)"><rect x="-58.85" y="-27.5" width="117.7" height="55"/><text y="-4">node_id=185</text><text y="18">x5 &gt; 0</text></g>
<g id="node188" class="node" transform="translate(5487.3,982.5)"><rect x="-58.85" y="-38.5" width="117.7" height="77"/><text y="-14.8">node_id=188</text><text y="7.2">Lable: 1</text><text y="29.2">#Samples: 2</text></g>
<g id="node191" class="node" transform="translate(5629,982.5)"><rect x="-58.85" y="-27.5" width="117.7" height="55"/><text y="-4">node_id=191</text><text y="18">x1 &gt; 0</text></g>
<g id="node202" class="node" transform="translate(5770,982.5)"><rect x="-58.85" y="-27.5" width="117.7" height="55"/><text y="-4">node_id=202</text><text y="18">x3 &gt; 0</text></g>
<g id="node208" class="node" transform="translate(6052.7,982.5)"><rect x="-58.85" y="-27.5" width="117.7" height="55"/><text y="-4">node_id=208</text><text y="18">x7 &gt; 0</text></g>
<g id="node213" class="node" transform="translate(6194,982.5)"><rect x="-58.85" y="-38.5" width="117.7" height="77"/><text y="-14.8">node_id=213</text><text y="7.2">Lable: 0</text><text y="29.2">#Samples: 2</text></g>
<g id="node217" class="node" transform="translate(6618.1,982.5)"><rect x="-58.85" y="-27.5" width="117.7" height="55"/><text y="-4">node_id=217</text><text y="18">x2 &gt; 0</text></g>
<g id="node222" class="node" transform="translate(6759.4,982.5)"><rect x="-58.85" y="-27.5" width="117.7" height="55"/><text y="-4">node_id=222</text><text y="18">x12 &gt; 0</text></g>
<g id="node228" class="node" transform="translate(6900.7,982.5)"><rect x="-58.85" y="-38.5" width="117.7" height="77"/><text y="-14.8">node_id=228</text><text y="7.2">Lable: 0</text><text y="29.2">#Samples: 5</text></g>
<g id="node229" class="node" transform="translate(7042,982.5)"><rect x="-58.85" y="-38.5" width="117.7" height="77"/><text y="-14.8">node_id=229</text><text y="7.2">Lable: 1</text><text y="29.2">#Samples: 1</text></g>
<g id="node232" class="node" transform="translate(7183.7,982.5)"><rect x="-58.85" y="-38.5" width="117.7" height="77"/><text y="-14.8">node_id=232</text><text y="7.2">Lable: 0</text><text y="29.2">#Samples: 6</text></g>
<g id="node233" class="node" transform="translate(7324.6,982.5)"><rect x="-58.85" y="-27.5" width="117.7" height="55"/><text y="-4">node_id=233</text><text y="18">x5 &gt; 0</text></g>
<g id="node241" class="node" transform="translate(7466.3,982.5)"><rect x="-58.85" y="-38.5" width="117.7" height="77"/><text y="-14.8">node_id=241</text><text y="7.2">Lable: 0</text><text y="29.2">#Samples: 5</text></g>
<g id="node242" class="node" transform="translate(7607.6,982.5)"><rect x="-58.85" y="-27.5" width="117.7" height="55"/><text y="-4">node_id=242</text><text y="18">x5 &gt; 0</text></g>
<g id="node8" class="node" transform="translate(331.6,1129)"><rect x="-49.7" y="-27.5" width="99.4" height="55"/><text y="-4">node_id=8</text><text y="18">x6 &gt; 0</text></g>
<g id="node21" class="node" transform="translate(465.1,1129)"><rect x="-54.25" y="-27.5" width="108.5" height="55"/><text y="-4">node_id=21</text><text y="18">x3 &gt; 0</text></g>
<g id="node33" class="node" transform="translate(690.6,1129)"><rect x="-55.45" y="-38.5" width="110.9" height="77"/><text y="-14.8">node_id=33</text><text y="7.2">Lable: 1</text><text y="29.2">#Samples: 1</text></g>
<g id="node34" class="node" transform="translate(826.2,1129)"><rect x="-55.45" y="-38.5" width="110.9" height="77"/><text y="-14.8">node_id=34</text><text y="7.2">Lable: 0</text><text y="29.2">#Samples: 4</text></g>
<g id="node36" class="node" transform="translate(959.6,1129)"><rect x="-54.25" y="-27.5" width="108.5" height="55"/><text y="-4">node_id=36</text><text y="18">x6 &gt; 0</text></g>
<g id="node43" class="node" transform="translate(1092.7,1129)"><rect x="-55.45" y="-38.5" width="110.9" height="77"/><text y="-14.8">node_id=43</text><text y="7.2">Lable: 1</text><text y="29.2">#Samples: 3</text></g>
<g id="node46" class="node" transform="translate(1226.2,1129)"><rect x="-54.25" y="-27.5" width="108.5" height="55"/><text y="-4">node_id=46</text><text y="18">x6 &gt; 0</text></g>
<g id="node53" class="node" transform="translate(1359.3,1129)"><rect x="-55.45" y="-38.5" width="110.9" height="77"/><text y="-14.8">node_id=53</text><text y="7.2">Lable: 0</text><text y="29.2">#Samples: 4</text></g>
<g id="node60" class="node" transform="translate(1496.1,1129)"><rect x="-55.45" y="-38.5" width="110.9" height="77"/><text y="-14.8">node_id=60</text><text y="7.2">Lable: 1</text><text y="29.2">#Samples: 1</text></g>
<g id="node61" class="node" transform="translate(1628.7,1129)"><rect x="-54.25" y="-27.5" width="108.5" height="55"/><text y="-4">node_id=61</text><text y="18">x9 &gt; 0.5</text></g>
<g id="node65" class="node" transform="translate(1762.2,1129)"><rect x="-55.45" y="-38.5" width="110.9" height="77"/><text y="-14.8">node_id=65</text><text y="7.2">Lable: 0</text><text y="29.2">#Samples: 3</text></g>
<g id="node66" class="node" transform="translate(1895.7,1129)"><rect x="-54.25" y="-27.5" width="108.5" height="55"/><text y="-4">node_id=66</text><text y="18">x1 &gt; 0.5</text></g>
<g id="node76" class="node" transform="translate(2087.6,1129)"><rect x="-54.25" y="-27.5" width="108.5" height="55"/><text y="-4">node_id=76</text><text y="18">x5 &gt; 0</text></g>
<g id="node81" class="node" transform="translate(2220.7,1129)"><rect x="-55.45" y="-38.5" width="110.9" height="77"/><text y="-14.8">node_id=81</text><text y="7.2">Lable: 0</text><text y="29.2">#Samples: 8</text></g>
<g id="node89" class="node" transform="translate(2499.2,1129)"><rect x="-55.45" y="-38.5" width="110.9" height="77"/><text y="-14.8">node_id=89</text><text y="7.2">Lable: 0</text><text y="29.2">#Samples: 3</text></g>
<g id="node90" class="node" transform="translate(2633,1129)"><rect x="-54.25" y="-27.5" width="108.5" height="55"/><text y="-4">node_id=90</text><text y="18">x11 &gt; 0</text></g>
<g id="node96" class="node" transform="translate(2770.4,1129)"><rect x="-55.45" y="-38.5" width="110.9" height="77"/><text y="-14.8">node_id=96</text><text y="7.2">Lable: 1</text><text y="29.2">#Samples: 3</text></g>
<g id="node97" class="node" transform="translate(2903.4,1129)"><rect x="-54.25" y="-27.5" width="108.5" height="55"/><text y="-4">node_id=97</text><text y="18">x3 &gt; 0</text></g>
<g id="node112" class="node" transform="translate(3301,1129)"><rect x="-58.85" y="-27.5" width="117.7" height="55"/><text y="-4">node_id=112</text><text y="18">x3 &gt; 0</text></g>
<g id="node117" class="node" transform="translate(3441.9,1129)"><rect x="-58.85" y="-38.5" width="117.7" height="77"/><text y="-14.8">node_id=117</text><text y="7.2">Lable: 0</text><text y="29.2">#Samples: 6</text></g>
<g id="node119" class="node" transform="translate(3601.1,1129)"><rect x="-58.85" y="-27.5" width="117.7" height="55"/><text y="-4">node_id=119</text><text y="18">x3 &gt; 0</text></g>
<g id="node124" class="node" transform="translate(3759.4,1129)"><rect x="-58.85" y="-27.5" width="117.7" height="55"/><text y="-4">node_id=124</text><text y="18">x7 &gt; 0</text></g>
<g id="node146" class="node" transform="translate(4042.2,1129)"><rect x="-58.85" y="-38.5" width="117.7" height="77"/><text y="-14.8">node_id=146</text><text y="7.2">Lable: 0</text><text y="29.2">#Samples: 6</text></g>
<g id="node147" class="node" transform="translate(4183.5,1129)"><rect x="-58.85" y="-27.5" width="117.7" height="55"/><text y="-4">node_id=147</text><text y="18">x7 &gt; 0</text></g>
<g id="node151" class="node" transform="translate(4356.8,1129)"><rect x="-58.85" y="-27.5" width="117.7" height="55"/><text y="-4">node_id=151</text><text y="18">x9 &gt; 0</text></g>
<g id="node156" class="node" transform="translate(4498.2,1129)"><rect x="-58.85" y="-27.5" width="117.7" height="55"/><text y="-4">node_id=156</text><text y="18">x2 &gt; 0</text></g>
<g id="node167" class="node" transform="translate(4639.9,1129)"><rect x="-58.85" y="-38.5" width="117.7" height="77"/><text y="-14.8">node_id=167</text><text y="7.2">Lable: 1</text><text y="29.2">#Samples: 1</text></g>
<g id="node168" class="node" transform="translate(4780.9,1129)"><rect x="-58.85" y="-38.5" width="117.7" height="77"/><text y="-14.8">node_id=168</text><text y="7.2">Lable: 0</text><text y="29.2">#Samples: 3</text></g>
<g id="node170" class="node" transform="translate(4922.6,1129)"><rect x="-58.85" y="-27.5" width="117.7" height="55"/><text y="-4">node_id=170</text><text y="18">x9 &gt; 0</text></g>
<g id="node175" class="node" transform="translate(5064,1129)"><rect x="-58.85" y="-38.5" width="117.7" height="77"/><text y="-14.8">node_id=175</text><text y="7.2">Lable: 1</text><text y="29.2">#Samples: 2</text></g>
<g id="node186" class="node" transform="translate(5205,1129)"><rect x="-58.85" y="-38.5" width="117.7" height="77"/><text y="-14.8">node_id=186</text><text y="7.2">Lable: 0</text><text y="29.2">#Samples: 6</text></g>
<g id="node187" class="node" transform="translate(5346.3,1129)"><rect x="-58.85" y="-38.5" width="117.7" height="77"/><text y="-14.8">node_id=187</text><text y="7.2">Lable: 0</text><text y="29.2">#Samples: 2</text></g>
<g id="node192" class="node" transform="translate(5487.3,1129)"><rect x="-58.85" y="-27.5" width="117.7" height="55"/><text y="-4">node_id=192</text><text y="18">x3 &gt; 0</text></g>
<g id="node199" class="node" transform="translate(5629,1129)"><rect x="-58.85" y="-27.5" width="117.7" height="55"/><text y="-4">node_id=199</text><text y="18">x5 &gt; 0</text></g>
<g id="node203" class="node" transform="translate(5770,1129)"><rect x="-58.85" y="-38.5" width="117.7" height="77"/><text y="-14.8">node_id=203</text><text y="7.2">Lable: 0</text><text y="29.2">#Samples: 4</text></g>
<g id="node204" class="node" transform="translate(5911.7,1129)"><rect x="-58.85" y="-27.5" width="117.7" height="55"/><text y="-4">node_id=204</text><text y="18">x5 &gt; 0</text></g>
<g id="node209" class="node" transform="translate(6052.7,1129)"><rect x="-58.85" y="-38.5" width="117.7" height="77"/><text y="-14.8">node_id=209</text><text y="7.2">Lable: 0</text><text y="29.2">#Samples: 3</text></g>
<g id="node210" class="node" transform="translate(6194,1129)"><rect x="-58.85" y="-27.5" width="117.7" height="55"/><text y="-4">node_id=210</text><text y="18">x1 &gt; 0</text></g>
<g id="node218" class="node" transform="translate(6476.5,1129)"><rect x="-58.85" y="-27.5" width="117.7" height="55"/><text y="-4">node_id=218</text><text y="18">x1 &gt; 0</text></g>
<g id="node221" class="node" transform="translate(6618.1,1129)"><rect x="-58.85" y="-38.5" width="117.7" height="77"/><text y="-14.8">node_id=221</text><text y="7.2">Lable: 1</text><text y="29.2">#Samples: 3</text></g>
<g id="node223" class="node" transform="translate(6759.4,1129)"><rect x="-58.85" y="-38.5" width="117.7" height="77"/><text y="-14.8">node_id=223</text><text y="7.2">Lable: 0</text><text y="29.2">#Samples: 3</text></g>
<g id="node224" class="node" transform="translate(6900.7,1129)"><rect x="-58.85" y="-27.5" width="117.7" height="55"/><text y="-4">node_id=224</text><text y="18">x5 &gt; 0</text></g>
<g id="node234" class="node" transform="translate(7218.3,1129)"><rect x="-58.85" y="-27.5" width="117.7" height="55"/><text y="-4">node_id=234</text><text y="18">x3 &gt; 0</text></g>
<g id="node239" class="node" transform="translate(7359.2,1129)"><rect x="-58.85" y="-38.5" width="117.7" height="77"/><text y="-14.8">node_id=239</text><text y="7.2">Lable: 0</text><text y="29.2">#Samples: 3</text></g>
<g id="node243" class="node" transform="translate(7571.7,1129)"><rect x="-58.85" y="-38.5" width="117.7" height="77"/><text y="-14.8">node_id=243</text><text y="7.2">Lable: 0</text><text y="29.2">#Samples: 2</text></g>
<g id="node244" class="node" transform="translate(7713.5,1129)"><rect x="-58.85" y="-38.5" width="117.7" height="77"/><text y="-14.8">node_id=244</text><text y="7.2">Lable: 1</text><text y="29.2">#Samples: 1</text></g>
<g id="node9" class="node" transform="translate(196.9,1275)"><rect x="-49.7" y="-27.5" width="99.4" height="55"/><text y="-4">node_id=9</text><text y="18">x12 &gt; 0</text></g>
<g id="node14" class="node" transform="translate(331.6,1275)"><rect x="-54.25" y="-27.5" width="108.5" height="55"/><text y="-4">node_id=14</text><text y="18">x3 &gt; 0</text></g>
<g id="node22" class="node" transform="translate(465.1,1275)"><rect x="-55.45" y="-38.5" width="110.9" height="77"/><text y="-14.8">node_id=22</text><text y="7.2">Lable: 0</text><text y="29.2">#Samples: 3</text></g>
<g id="node23" class="node" transform="translate(599.4,1275)"><rect x="-54.25" y="-27.5" width="108.5" height="55"/><text y="-4">node_id=23</text><text y="18">x6 &gt; 0</text></g>
<g id="node37" class="node" transform="translate(882.1,1275)"><rect x="-55.45" y="-38.5" width="110.9" height="77"/><text y="-14.8">node_id=37</text><text y="7.2">Lable: 0</text><text y="29.2">#Samples: 3</text></g>
<g id="node38" class="node" transform="translate(1015.6,1275)"><rect x="-54.25" y="-27.5" width="108.5" height="55"/><text y="-4">node_id=38</text><text y="18">x5 &gt; 0</text></g>
<g id="node47" class="node" transform="translate(1222,1275)"><rect x="-54.25" y="-27.5" width="108.5" height="55"/><text y="-4">node_id=47</text><text y="18">x7 &gt; 0</text></g>
<g id="node52" class="node" transform="translate(1355.5,1275)"><rect x="-55.45" y="-38.5" width="110.9" height="77"/><text y="-14.8">node_id=52</text><text y="7.2">Lable: 1</text><text y="29.2">#Samples: 3</text></g>
<g id="node62" class="node" transform="translate(1492.8,1275)"><rect x="-55.45" y="-38.5" width="110.9" height="77"/><text y="-14.8">node_id=62</text><text y="7.2">Lable: 0</text><text y="29.2">#Samples: 1</text></g>
<g id="node63" class="node" transform="translate(1628.7,1275)"><rect x="-55.45" y="-38.5" width="110.9" height="77"/><text y="-14.8">node_id=63</text><text y="7.2">Lable: 1</text><text y="29.2">#Samples: 1</text></g>
<g id="node67" class="node" transform="translate(1761.8,1275)"><rect x="-54.25" y="-27.5" width="108.5" height="55"/><text y="-4">node_id=67</text><text y="18">x5 &gt; 0</text></g>
<g id="node70" class="node" transform="translate(1895.7,1275)"><rect x="-54.25" y="-27.5" width="108.5" height="55"/><text y="-4">node_id=70</text><text y="18">x5 &gt; 0.5</text></g>
<g id="node77" class="node" transform="translate(2087.6,1275)"><rect x="-54.25" y="-27.5" width="108.5" height="55"/><text y="-4">node_id=77</text><text y="18">x7 &gt; 0</text></g>
<g id="node80" class="node" transform="translate(2220.7,1275)"><rect x="-55.45" y="-38.5" width="110.9" height="77"/><text y="-14.8">node_id=80</text><text y="7.2">Lable: 0</text><text y="29.2">#Samples: 3</text></g>
<g id="node91" class="node" transform="translate(2495.5,1275)"><rect x="-54.25" y="-27.5" width="108.5" height="55"/><text y="-4">node_id=91</text><text y="18">x3 &gt; 0</text></g>
<g id="node94" class="node" transform="translate(2632.5,1275)"><rect x="-55.45" y="-38.5" width="110.9" height="77"/><text y="-14.8">node_id=94</text><text y="7.2">Lable: 1</text><text y="29.2">#Samples: 1</text></g>
<g id="node98" class="node" transform="translate(2770,1275)"><rect x="-54.25" y="-27.5" width="108.5" height="55"/><text y="-4">node_id=98</text><text y="18">x11 &gt; 0</text></g>
<g id="node103" class="node" transform="translate(2911.3,1275)"><rect x="-58.85" y="-27.5" width="117.7" height="55"/><text y="-4">node_id=103</text><text y="18">x11 &gt; 0</text></g>
<g id="node113" class="node" transform="translate(3194,1275)"><rect x="-58.85" y="-27.5" width="117.7" height="55"/><text y="-4">node_id=113</text><text y="18">x11 &gt; 0</text></g>
<g id="node116" class="node" transform="translate(3335.8,1275)"><rect x="-58.85" y="-38.5" width="117.7" height="77"/><text y="-14.8">node_id=116</text><text y="7.2">Lable: 0</text><text y="29.2">#Samples: 2</text></g>
<g id="node120" class="node" transform="translate(3476.7,1275)"><rect x="-58.85" y="-27.5" width="117.7" height="55"/><text y="-4">node_id=120</text><text y="18">x7 &gt; 0</text></g>
<g id="node123" class="node" transform="translate(3618.5,1275)"><rect x="-58.85" y="-38.5" width="117.7" height="77"/><text y="-14.8">node_id=123</text><text y="7.2">Lable: 0</text><text y="29.2">#Samples: 2</text></g>
<g id="node125" class="node" transform="translate(3759.4,1275)"><rect x="-58.85" y="-38.5" width="117.7" height="77"/><text y="-14.8">node_id=125</text><text y="7.2">Lable: 1</text><text y="29.2">#Samples: 2</text></g>
<g id="node126" class="node" transform="translate(3901,1275)"><rect x="-58.85" y="-27.5" width="117.7" height="55"/><text y="-4">node_id=126</text><text y="18">x6 &gt; 0</text></g>
<g id="node148" class="node" transform="translate(4042.2,1275)"><rect x="-58.85" y="-38.5" width="117.7" height="77"/><text y="-14.8">node_id=148</text><text y="7.2">Lable: 1</text><text y="29.2">#Samples: 1</text></g>
<g id="node149" class="node" transform="translate(4183.5,1275)"><rect x="-58.85" y="-38.5" width="117.7" height="77"/><text y="-14.8">node_id=149</text><text y="7.2">Lable: 0</text><text y="29.2">#Samples: 2</text></g>
<g id="node152" class="node" transform="translate(4324.9,1275)"><rect x="-58.85" y="-38.5" width="117.7" height="77"/><text y="-14.8">node_id=152</text><text y="7.2">Lable: 1</text><text y="29.2">#Samples: 3</text></g>
<g id="node153" class="node" transform="translate(4466.7,1275)"><rect x="-58.85" y="-27.5" width="117.7" height="55"/><text y="-4">node_id=153</text><text y="18">x7 &gt; 0</text></g>
<g id="node157" class="node" transform="translate(4607.6,1275)"><rect x="-58.85" y="-27.5" width="117.7" height="55"/><text y="-4">node_id=157</text><text y="18">x7 &gt; 0</text></g>
<g id="node164" class="node" transform="translate(4749.4,1275)"><rect x="-58.85" y="-38.5" width="117.7" height="77"/><text y="-14.8">node_id=164</text><text y="7.2">Lable: 0</text><text y="29.2">#Samples: 3</text></g>
<g id="node171" class="node" transform="translate(4890.3,1275)"><rect x="-58.85" y="-27.5" width="117.7" height="55"/><text y="-4">node_id=171</text><text y="18">x12 &gt; 0</text></g>
<g id="node174" class="node" transform="translate(5031.7,1275)"><rect x="-58.85" y="-38.5" width="117.7" height="77"/><text y="-14.8">node_id=174</text><text y="7.2">Lable: 1</text><text y="29.2">#Samples: 1</text></g>
<g id="node193" class="node" transform="translate(5346.3,1275)"><rect x="-58.85" y="-38.5" width="117.7" height="77"/><text y="-14.8">node_id=193</text><text y="7.2">Lable: 1</text><text y="29.2">#Samples: 1</text></g>
<g id="node194" class="node" transform="translate(5487.3,1275)"><rect x="-58.85" y="-27.5" width="117.7" height="55"/><text y="-4">node_id=194</text><text y="18">x5 &gt; 0</text></g>
<g id="node200" class="node" transform="translate(5629,1275)"><rect x="-58.85" y="-38.5" width="117.7" height="77"/><text y="-14.8">node_id=200</text><text y="7.2">Lable: 0</text><text y="29.2">#Samples: 1</text></g>
<g id="node201" class="node" transform="translate(5770,1275)"><rect x="-58.85" y="-38.5" width="117.7" height="77"/><text y="-14.8">node_id=201</text><text y="7.2">Lable: 1</text><text y="29.2">#Samples: 2</text></g>
<g id="node205" class="node" transform="translate(5911.7,1275)"><rect x="-58.85" y="-38.5" width="117.7" height="77"/><text y="-14.8">node_id=205</text><text y="7.2">Lable: 0</text><text y="29.2">#Samples: 1</text></g>
<g id="node206" class="node" transform="translate(6052.7,1275)"><rect x="-58.85" y="-38.5" width="117.7" height="77"/><text y="-14.8">node_id=206</text><text y="7.2">Lable: 1</text><text y="29.2">#Samples: 1</text></g>
<g id="node211" class="node" transform="translate(6194,1275)"><rect x="-58.85" y="-38.5" width="117.7" height="77"/><text y="-14.8">node_id=211</text><text y="7.2">Lable: 1</text><text y="29.2">#Samples: 1</text></g>
<g id="node212" class="node" transform="translate(6335.4,1275)"><rect x="-58.85" y="-38.5" width="117.7" height="77"/><text y="-14.8">node_id=212</text><text y="7.2">Lable: 0</text><text y="29.2">#Samples: 1</text></g>
<g id="node219" class="node" transform="translate(6476.5,1275)"><rect x="-58.85" y="-38.5" width="117.7" height="77"/><text y="-14.8">node_id=219</text><text y="7.2">Lable: 0</text><text y="29.2">#Samples: 1</text></g>
<g id="node220" class="node" transform="translate(6618.1,1275)"><rect x="-58.85" y="-38.5" width="117.7" height="77"/><text y="-14.8">node_id=220</text><text y="7.2">Lable: 1</text><text y="29.2">#Samples: 1</text></g>
<g id="node225" class="node" transform="translate(6857.1,1275)"><rect x="-58.85" y="-38.5" width="117.7" height="77"/><text y="-14.8">node_id=225</text><text y="7.2">Lable: 1</text><text y="29.2">#Samples: 1</text></g>
<g id="node226" class="node" transform="translate(6998,1275)"><rect x="-58.85" y="-38.5" width="117.7" height="77"/><text y="-14.8">node_id=226</text><text y="7.2">Lable: 0</text><text y="29.2">#Samples: 1</text></g>
<g id="node235" class="node" transform="translate(7156.4,1275)"><rect x="-58.85" y="-38.5" width="117.7" height="77"/><text y="-14.8">node_id=235</text><text y="7.2">Lable: 0</text><text y="29.2">#Samples: 1</text></g>
<g id="node236" class="node" transform="translate(7298.1,1275)"><rect x="-58.85" y="-27.5" width="117.7" height="55"/><text y="-4">node_id=236</text><text y="18">x7 &gt; 0</text></g>
<g id="node10" class="node" transform="translate(63.4,1422)"><rect x="-55.45" y="-38.5" width="110.9" height="77"/><text y="-14.8">node_id=10</text><text y="7.2">Lable: 0</text><text y="29.2">#Samples: 2</text></g>
<g id="node11" class="node" transform="translate(196.9,1422)"><rect x="-54.25" y="-27.5" width="108.5" height="55"/><text y="-4">node_id=11</text><text y="18">x3 &gt; 0</text></g>
<g id="node15" class="node" transform="translate(330,1422)"><rect x="-54.25" y="-27.5" width="108.5" height="55"/><text y="-4">node_id=15</text><text y="18">x7 &gt; 0</text></g>
<g id="node20" class="node" transform="translate(463.4,1422)"><rect x="-55.45" y="-38.5" width="110.9" height="77"/><text y="-14.8">node_id=20</text><text y="7.2">Lable: 1</text><text y="29.2">#Samples: 1</text></g>
<g id="node24" class="node" transform="translate(599.4,1422)"><rect x="-55.45" y="-38.5" width="110.9" height="77"/><text y="-14.8">node_id=24</text><text y="7.2">Lable: 1</text><text y="29.2">#Samples: 1</text></g>
<g id="node25" class="node" transform="translate(735.4,1422)"><rect x="-55.45" y="-38.5" width="110.9" height="77"/><text y="-14.8">node_id=25</text><text y="7.2">Lable: 0</text><text y="29.2">#Samples: 1</text></g>
<g id="node39" class="node" transform="translate(916.9,1422)"><rect x="-54.25" y="-27.5" width="108.5" height="55"/><text y="-4">node_id=39</text><text y="18">x7 &gt; 0</text></g>
<g id="node42" class="node" transform="translate(1050,1422)"><rect x="-55.45" y="-38.5" width="110.9" height="77"/><text y="-14.8">node_id=42</text><text y="7.2">Lable: 0</text><text y="29.2">#Samples: 1</text></g>
<g id="node48" class="node" transform="translate(1210.4,1422)"><rect x="-55.45" y="-38.5" width="110.9" height="77"/><text y="-14.8">node_id=48</text><text y="7.2">Lable: 1</text><text y="29.2">#Samples: 1</text></g>
<g id="node49" class="node" transform="translate(1343,1422)"><rect x="-54.25" y="-27.5" width="108.5" height="55"/><text y="-4">node_id=49</text><text y="18">x12 &gt; 0</text></g>
<g id="node68" class="node" transform="translate(1544.2,1422)"><rect x="-55.45" y="-38.5" width="110.9" height="77"/><text y="-14.8">node_id=68</text><text y="7.2">Lable: 1</text><text y="29.2">#Samples: 1</text></g>
<g id="node69" class="node" transform="translate(1679.7,1422)"><rect x="-55.45" y="-38.5" width="110.9" height="77"/><text y="-14.8">node_id=69</text><text y="7.2">Lable: 0</text><text y="29.2">#Samples: 1</text></g>
<g id="node71" class="node" transform="translate(1815.3,1422)"><rect x="-55.45" y="-38.5" width="110.9" height="77"/><text y="-14.8">node_id=71</text><text y="7.2">Lable: 0</text><text y="29.2">#Samples: 0</text></g>
<g id="node72" class="node" transform="translate(1951.6,1422)"><rect x="-55.45" y="-38.5" width="110.9" height="77"/><text y="-14.8">node_id=72</text><text y="7.2">Lable: 1</text><text y="29.2">#Samples: 1</text></g>
<g id="node78" class="node" transform="translate(2087.2,1422)"><rect x="-55.45" y="-38.5" width="110.9" height="77"/><text y="-14.8">node_id=78</text><text y="7.2">Lable: 0</text><text y="29.2">#Samples: 1</text></g>
<g id="node79" class="node" transform="translate(2223.6,1422)"><rect x="-55.45" y="-38.5" width="110.9" height="77"/><text y="-14.8">node_id=79</text><text y="7.2">Lable: 1</text><text y="29.2">#Samples: 2</text></g>
<g id="node92" class="node" transform="translate(2359.5,1422)"><rect x="-55.45" y="-38.5" width="110.9" height="77"/><text y="-14.8">node_id=92</text><text y="7.2">Lable: 0</text><text y="29.2">#Samples: 1</text></g>
<g id="node93" class="node" transform="translate(2495.1,1422)"><rect x="-55.45" y="-38.5" width="110.9" height="77"/><text y="-14.8">node_id=93</text><text y="7.2">Lable: 0</text><text y="29.2">#Samples: 3</text></g>
<g id="node99" class="node" transform="translate(2632,1422)"><rect x="-55.45" y="-38.5" width="110.9" height="77"/><text y="-14.8">node_id=99</text><text y="7.2">Lable: 1</text><text y="29.2">#Samples: 1</text></g>
<g id="node100" class="node" transform="translate(2770.4,1422)"><rect x="-58.85" y="-27.5" width="117.7" height="55"/><text y="-4">node_id=100</text><text y="18">x7 &gt; 0</text></g>
<g id="node104" class="node" transform="translate(2911.3,1422)"><rect x="-58.85" y="-38.5" width="117.7" height="77"/><text y="-14.8">node_id=104</text><text y="7.2">Lable: 0</text><text y="29.2">#Samples: 3</text></g>
<g id="node105" class="node" transform="translate(3053,1422)"><rect x="-58.85" y="-38.5" width="117.7" height="77"/><text y="-14.8">node_id=105</text><text y="7.2">Lable: 1</text><text y="29.2">#Samples: 1</text></g>
<g id="node114" class="node" transform="translate(3194,1422)"><rect x="-58.85" y="-38.5" width="117.7" height="77"/><text y="-14.8">node_id=114</text><text y="7.2">Lable: 1</text><text y="29.2">#Samples: 1</text></g>
<g id="node115" class="node" transform="translate(3335.8,1422)"><rect x="-58.85" y="-38.5" width="117.7" height="77"/><text y="-14.8">node_id=115</text><text y="7.2">Lable: 0</text><text y="29.2">#Samples: 1</text></g>
<g id="node121" class="node" transform="translate(3476.7,1422)"><rect x="-58.85" y="-38.5" width="117.7" height="77"/><text y="-14.8">node_id=121</text><text y="7.2">Lable: 0</text><text y="29.2">#Samples: 2</text></g>
<g id="node122" class="node" transform="translate(3618.5,1422)"><rect x="-58.85" y="-38.5" width="117.7" height="77"/><text y="-14.8">node_id=122</text><text y="7.2">Lable: 1</text><text y="29.2">#Samples: 2</text></g>
<g id="node127" class="node" transform="translate(3810.8,1422)"><rect x="-58.85" y="-27.5" width="117.7" height="55"/><text y="-4">node_id=127</text><text y="18">x3 &gt; 0</text></g>
<g id="node132" class="node" transform="translate(3953,1422)"><rect x="-58.85" y="-38.5" width="117.7" height="77"/><text y="-14.8">node_id=132</text><text y="7.2">Lable: 0</text><text y="29.2">#Samples: 2</text></g>
<g id="node154" class="node" transform="translate(4324.9,1422)"><rect x="-58.85" y="-38.5" width="117.7" height="77"/><text y="-14.8">node_id=154</text><text y="7.2">Lable: 0</text><text y="29.2">#Samples: 2</text></g>
<g id="node155" class="node" transform="translate(4466.7,1422)"><rect x="-58.85" y="-38.5" width="117.7" height="77"/><text y="-14.8">node_id=155</text><text y="7.2">Lable: 1</text><text y="29.2">#Samples: 2</text></g>
<g id="node158" class="node" transform="translate(4607.6,1422)"><rect x="-58.85" y="-27.5" width="117.7" height="55"/><text y="-4">node_id=158</text><text y="18">x9 &gt; 0</text></g>
<g id="node163" class="node" transform="translate(4749.4,1422)"><rect x="-58.85" y="-38.5" width="117.7" height="77"/><text y="-14.8">node_id=163</text><text y="7.2">Lable: 0</text><text y="29.2">#Samples: 1</text></g>
<g id="node172" class="node" transform="translate(4890.3,1422)"><rect x="-58.85" y="-38.5" width="117.7" height="77"/><text y="-14.8">node_id=172</text><text y="7.2">Lable: 0</text><text y="29.2">#Samples: 1</text></g>
<g id="node173" class="node" transform="translate(5031.7,1422)"><rect x="-58.85" y="-38.5" width="117.7" height="77"/><text y="-14.8">node_id=173</text><text y="7.2">Lable: 1</text><text y="29.2">#Samples: 1</text></g>
<g id="node195" class="node" transform="translate(5382,1422)"><rect x="-58.85" y="-27.5" width="117.7" height="55"/><text y="-4">node_id=195</text><text y="18">x9 &gt; 0</text></g>
<g id="node198" class="node" transform="translate(5522.9,1422)"><rect x="-58.85" y="-38.5" width="117.7" height="77"/><text y="-14.8">node_id=198</text><text y="7.2">Lable: 0</text><text y="29.2">#Samples: 1</text></g>
<g id="node237" class="node" transform="translate(7226.8,1422)"><rect x="-58.85" y="-38.5" width="117.7" height="77"/><text y="-14.8">node_id=237</text><text y="7.2">Lable: 1</text><text y="29.2">#Samples: 2</text></g>
<g id="node238" class="node" transform="translate(7368.6,1422)"><rect x="-58.85" y="-38.5" width="117.7" height="77"/><text y="-14.8">node_id=238</text><text y="7.2">Lable: 0</text><text y="29.2">#Samples: 1</text></g>
<g id="node12" class="node" transform="translate(60.9,1568)"><rect x="-55.45" y="-38.5" width="110.9" height="77"/><text y="-14.8">node_id=12</text><text y="7.2">Lable: 1</text><text y="29.2">#Samples: 1</text></g>
<g id="node13" class="node" transform="translate(196.5,1568)"><rect x="-55.45" y="-38.5" width="110.9" height="77"/><text y="-14.8">node_id=13</text><text y="7.2">Lable: 0</text><text y="29.2">#Samples: 1</text></g>
<g id="node16" class="node" transform="translate(330,1568)"><rect x="-54.25" y="-27.5" width="108.5" height="55"/><text y="-4">node_id=16</text><text y="18">x12 &gt; 0</text></g>
<g id="node19" class="node" transform="translate(463.4,1568)"><rect x="-55.45" y="-38.5" width="110.9" height="77"/><text y="-14.8">node_id=19</text><text y="7.2">Lable: 1</text><text y="29.2">#Samples: 1</text></g>
<g id="node40" class="node" transform="translate(848.5,1568)"><rect x="-55.45" y="-38.5" width="110.9" height="77"/><text y="-14.8">node_id=40</text><text y="7.2">Lable: 1</text><text y="29.2">#Samples: 1</text></g>
<g id="node41" class="node" transform="translate(984.5,1568)"><rect x="-55.45" y="-38.5" width="110.9" height="77"/><text y="-14.8">node_id=41</text><text y="7.2">Lable: 0</text><text y="29.2">#Samples: 1</text></g>
<g id="node50" class="node" transform="translate(1278,1568)"><rect x="-55.45" y="-38.5" width="110.9" height="77"/><text y="-14.8">node_id=50</text><text y="7.2">Lable: 0</text><text y="29.2">#Samples: 1</text></g>
<g id="node51" class="node" transform="translate(1414,1568)"><rect x="-55.45" y="-38.5" width="110.9" height="77"/><text y="-14.8">node_id=51</text><text y="7.2">Lable: 1</text><text y="29.2">#Samples: 2</text></g>
<g id="node101" class="node" transform="translate(2699,1568)"><rect x="-58.85" y="-38.5" width="117.7" height="77"/><text y="-14.8">node_id=101</text><text y="7.2">Lable: 0</text><text y="29.2">#Samples: 1</text></g>
<g id="node102" class="node" transform="translate(2840.8,1568)"><rect x="-58.85" y="-38.5" width="117.7" height="77"/><text y="-14.8">node_id=102</text><text y="7.2">Lable: 1</text><text y="29.2">#Samples: 2</text></g>
<g id="node128" class="node" transform="translate(3722.1,1568)"><rect x="-58.85" y="-27.5" width="117.7" height="55"/><text y="-4">node_id=128</text><text y="18">x12 &gt; 0</text></g>
<g id="node131" class="node" transform="translate(3863,1568)"><rect x="-58.85" y="-38.5" width="117.7" height="77"/><text y="-14.8">node_id=131</text><text y="7.2">Lable: 1</text><text y="29.2">#Samples: 1</text></g>
<g id="node159" class="node" transform="translate(4537.2,1568)"><rect x="-58.85" y="-27.5" width="117.7" height="55"/><text y="-4">node_id=159</text><text y="18">x12 &gt; 0</text></g>
<g id="node162" class="node" transform="translate(4678.2,1568)"><rect x="-58.85" y="-38.5" width="117.7" height="77"/><text y="-14.8">node_id=162</text><text y="7.2">Lable: 0</text><text y="29.2">#Samples: 1</text></g>
<g id="node196" class="node" transform="translate(5311.5,1568)"><rect x="-58.85" y="-38.5" width="117.7" height="77"/><text y="-14.8">node_id=196</text><text y="7.2">Lable: 1</text><text y="29.2">#Samples: 1</text></g>
<g id="node197" class="node" transform="translate(5452.5,1568)"><rect x="-58.85" y="-38.5" width="117.7" height="77"/><text y="-14.8">node_id=197</text><text y="7.2">Lable: 0</text><text y="29.2">#Samples: 1</text></g>
<g id="node17" class="node" transform="translate(262,1715)"><rect x="-55.45" y="-38.5" width="110.9" height="77"/><text y="-14.8">node_id=17</text><text y="7.2">Lable: 0</text><text y="29.2">#Samples: 1</text></g>
<g id="node18" class="node" transform="translate(398.4,1715)"><rect x="-55.45" y="-38.5" width="110.9" height="77"/><text y="-14.8">node_id=18</text><text y="7.2">Lable: 1</text><text y="29.2">#Samples: 1</text></g>
<g id="node129" class="node" transform="translate(3651.6,1715)"><rect x="-58.85" y="-38.5" width="117.7" height="77"/><text y="-14.8">node_id=129</text><text y="7.2">Lable: 1</text><text y="29.2">#Samples: 2</text></g>
<g id="node130" class="node" transform="translate(3793,1715)"><rect x="-58.85" y="-38.5" width="117.7" height="77"/><text y="-14.8">node_id=130</text><text y="7.2">Lable: 0</text><text y="29.2">#Samples: 1</text></g>
<g id="node160" class="node" transform="translate(4466.7,1715)"><rect x="-58.85" y="-38.5" width="117.7" height="77"/><text y="-14.8">node_id=160</text><text y="7.2">Lable: 0</text><text y="29.2">#Samples: 1</text></g>
<g id="node161" class="node" transform="translate(4607.6,1715)"><rect x="-58.85" y="-38.5" width="117.7" height="77"/><text y="-14.8">node_id=161</text><text y="7.2">Lable: 1</text><text y="29.2">#Samples: 1</text></g>
</g>
</svg>
